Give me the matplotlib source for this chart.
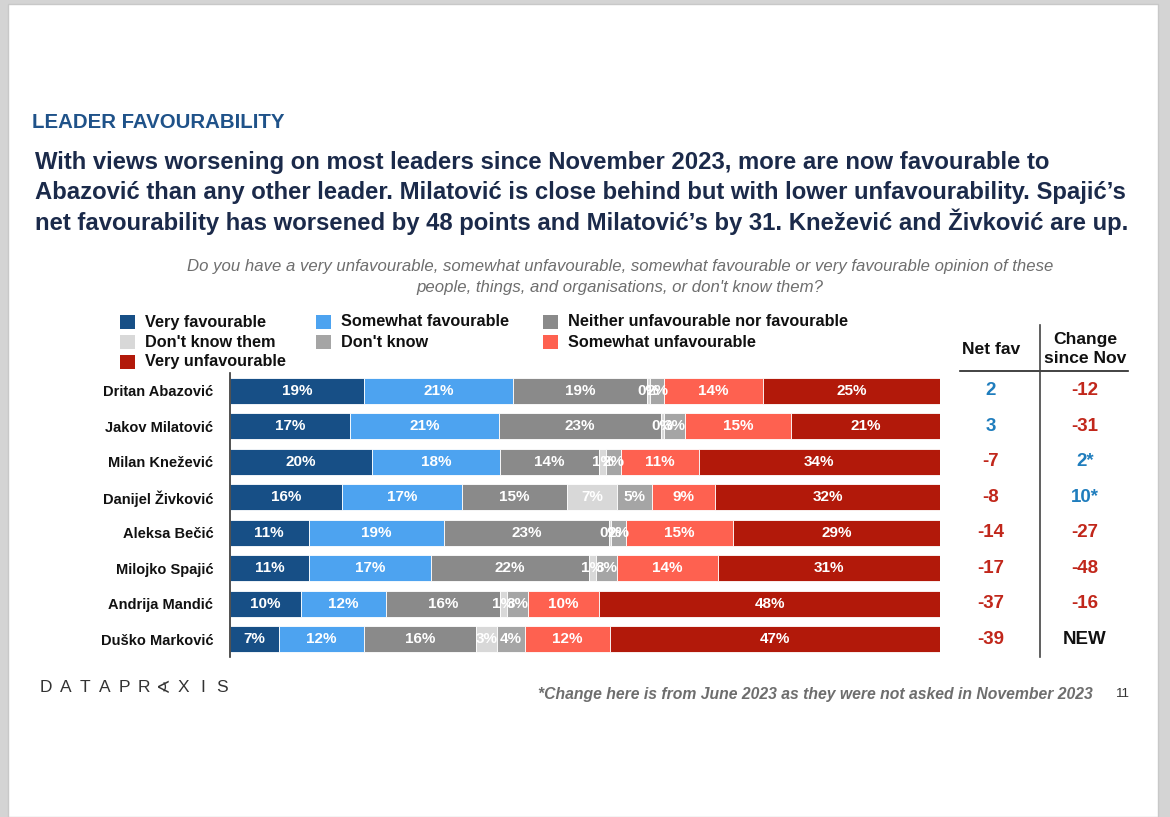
import numpy as np
from matplotlib import pyplot as plt
from matplotlib.patches import Rectangle
from matplotlib.transforms import blended_transform_factory

plt.rcParams['font.family'] = ['Liberation Sans', 'DejaVu Sans']

# datos
leaders = ['Dritan Abazović', 'Jakov Milatović', 'Milan Knežević', 'Danijel Živković',
           'Aleksa Bečić', 'Milojko Spajić', 'Andrija Mandić', 'Duško Marković']
very_fav = [19, 17, 20, 16, 11, 11, 10, 7]
somewhat_fav = [21, 21, 18, 17, 19, 17, 12, 12]
neither = [19, 23, 14, 15, 23, 22, 16, 16]
dk_them = [0.4, 0.4, 1, 7, 0.4, 1, 1, 3]
dk = [2, 3, 2, 5, 2, 3, 3, 4]
somewhat_unfav = [14, 15, 11, 9, 15, 14, 10, 12]
very_unfav = [25, 21, 34, 32, 29, 31, 48, 47]
net_fav = ['2', '3', '-7', '-8', '-14', '-17', '-37', '-39']
change = ['-12', '-31', '2*', '10*', '-27', '-48', '-16', 'NEW']

series = ['Very favourable', 'Somewhat favourable', 'Neither unfavourable nor favourable',
          "Don't know them", "Don't know", 'Somewhat unfavourable', 'Very unfavourable']
colors = ['#174f86', '#4da3f0', '#8a8a8a', '#d8d8d8', '#a5a5a5', '#fe6150', '#b2190a']

BLUE = '#1f7dbd'
RED = '#c1271b'

fig = plt.figure(figsize=(11.7, 8.17), dpi=100)
fig.patch.set_facecolor('#d4d4d4')
fig.patches.append(Rectangle((8/1170, 0), 1150/1170, 1 - 4/817, transform=fig.transFigure,
                             facecolor='white', edgecolor='#c8c8c8', lw=1, zorder=-5))

def fy(py):
    return 1 - py / 817

fig.text(32/1170, fy(123), 'LEADER FAVOURABILITY', color='#1f5289', fontsize=14.7,
         fontweight='bold', va='center')
head = ['With views worsening on most leaders since November 2023, more are now favourable to',
        'Abazović than any other leader. Milatović is close behind but with lower unfavourability. Spajić’s',
        'net favourability has worsened by 48 points and Milatović’s by 31. Knežević and Živković are up.']
for i, line in enumerate(head):
    fig.text(35/1170, fy(163 + i * 29.5), line, color='#1b2a4a', fontsize=17.2,
             fontweight='bold', va='center')
fig.text(620/1170, fy(267), 'Do you have a very unfavourable, somewhat unfavourable, somewhat favourable or very favourable opinion of these',
         color='#6e6e6e', fontsize=12.1, style='italic', ha='center', va='center')
fig.text(620/1170, fy(287), "people, things, and organisations, or don't know them?",
         color='#6e6e6e', fontsize=12.1, style='italic', ha='center', va='center')

# leyenda
leg_pos = [(120, 322), (316, 322), (543, 322), (120, 342), (316, 342), (543, 342), (120, 362)]
for (px, py), k in zip(leg_pos, range(len(series))):
    fig.patches.append(Rectangle((px/1170, fy(py + 7)), 15/1170, 14/817, transform=fig.transFigure,
                                 facecolor=colors[k], edgecolor='none'))
    fig.text((px + 25)/1170, fy(py), series[k], fontsize=11.7, fontweight='bold',
             color='#111111', va='center')

ax = fig.add_axes([230/1170, fy(657), 710/1170, 284/817])
ax.patch.set_alpha(0)
data = np.array([very_fav, somewhat_fav, neither, dk_them, dk, somewhat_unfav, very_unfav], dtype=float)
shares = data / data.sum(axis=0) * 100
y = np.arange(len(leaders))
left = np.zeros(len(leaders))
for k in range(len(series)):
    ax.barh(y, shares[k], left=left, height=0.73, color=colors[k], edgecolor='white', linewidth=0.6)
    for i in range(len(leaders)):
        ax.text(left[i] + shares[k][i] / 2, y[i], f'{data[k][i]:.0f}%', ha='center', va='center',
                color='white', fontsize=11, fontweight='bold')
    left += shares[k]
ax.set_xlim(0, 100)
ax.set_ylim(len(leaders) - 0.5, -0.5)
ax.set_xticks([])
ax.set_yticks(y)
ax.set_yticklabels(leaders, fontsize=10.5, fontweight='bold', color='#111111')
ax.tick_params(axis='y', length=0, pad=12)
for s in ['top', 'right', 'bottom']:
    ax.spines[s].set_visible(False)
ax.spines['left'].set_color('#333333')
ax.spines['left'].set_linewidth(1.2)

tr = blended_transform_factory(fig.transFigure, ax.transData)
for i in range(len(leaders)):
    c1 = BLUE if not net_fav[i].startswith('-') else RED
    ax.text(991/1170, y[i], net_fav[i], transform=tr, ha='center', va='center', fontsize=13.5,
            fontweight='bold', color=c1, clip_on=False)
    if change[i] == 'NEW':
        c2 = '#111111'
    else:
        c2 = BLUE if not change[i].startswith('-') else RED
    ax.text(1085/1170, y[i], change[i], transform=tr, ha='center', va='center', fontsize=13.5,
            fontweight='bold', color=c2, clip_on=False)

fig.text(991/1170, fy(349), 'Net fav', fontsize=12.6, fontweight='bold', ha='center', va='center', color='#111111')
fig.text(1085/1170, fy(349), 'Change\nsince Nov', fontsize=12.6, fontweight='bold', ha='center', va='center',
         color='#111111', linespacing=1.4)
fig.add_artist(plt.Line2D([960/1170, 1128/1170], [fy(371), fy(371)], color='#222222', lw=1.2))
fig.add_artist(plt.Line2D([1040/1170, 1040/1170], [fy(325), fy(657)], color='#444444', lw=1.2))

for i, ch in enumerate('DATAPR∢XIS'):
    fig.text((46 + i * 19.6)/1170, fy(688), ch, fontsize=12.5, color='#333333', ha='center', va='center')
fig.text(1093/1170, fy(694), '*Change here is from June 2023 as they were not asked in November 2023',
         fontsize=11.3, style='italic', fontweight='bold', color='#6e6e6e', ha='right', va='center')
fig.text(1123/1170, fy(694), '11', fontsize=9.5, color='#333333', ha='center', va='center')

fig.savefig('out.png', dpi=100)
